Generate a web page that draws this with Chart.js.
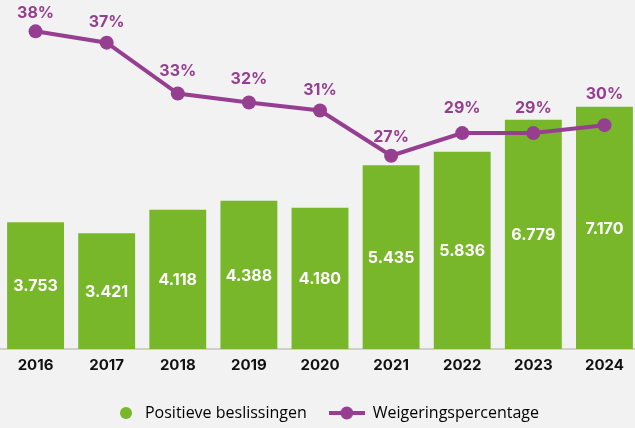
<!DOCTYPE html>
<html>
<head>
<meta charset="utf-8">
<script src="https://cdn.jsdelivr.net/npm/chart.js@4.4.0/dist/chart.umd.min.js"></script>
<style>
  html, body { margin: 0; padding: 0; background: #f2f2f2; overflow: hidden; }
  #wrap { width: 640px; height: 428px; }
</style>
</head>
<body>
<div id="wrap"><canvas id="chart"></canvas></div>
<script>
const years = ['2016', '2017', '2018', '2019', '2020', '2021', '2022', '2023', '2024'];
const positieve = [3753, 3421, 4118, 4388, 4180, 5435, 5836, 6779, 7170];
const weigering = [38.0, 37.0, 32.5, 31.7, 31.0, 27.0, 29.0, 29.0, 29.7];

const green = '#78b72a';
const purple = '#963f91';
// how far above each point the % label sits
const pctLift = [18, 20, 22, 23, 20, 19, 25, 25, 31];

function fmtNum(n) {
    return String(n).replace(/\B(?=(\d{3})+(?!\d))/g, '.');
}

// legend icons
function makeDot() {
    let c = document.createElement('canvas');
    c.width = 36; c.height = 14;
    let g = c.getContext('2d');
    g.fillStyle = green;
    g.beginPath(); g.arc(25, 7, 6, 0, Math.PI * 2); g.fill();
    return c;
}
function makeLineDot() {
    let c = document.createElement('canvas');
    c.width = 36; c.height = 14;
    let g = c.getContext('2d');
    g.strokeStyle = purple; g.lineWidth = 4;
    g.beginPath(); g.moveTo(0, 7); g.lineTo(36, 7); g.stroke();
    g.fillStyle = purple;
    g.beginPath(); g.arc(18, 7, 6.5, 0, Math.PI * 2); g.fill();
    return c;
}

const valueLabels = {
    id: 'valueLabels',
    afterDatasetsDraw(chart) {
        const ctx = chart.ctx;
        ctx.save();
        ctx.textAlign = 'center';
        ctx.textBaseline = 'middle';

        let barMeta = chart.getDatasetMeta(0);
        ctx.fillStyle = '#ffffff';
        ctx.font = 'bold 16px Inter, "DejaVu Sans", sans-serif';
        barMeta.data.forEach((bar, i) => {
            let cy = (bar.y + bar.base) / 2;
            ctx.fillText(fmtNum(positieve[i]), bar.x, cy + 1);
        });

        let lineMeta = chart.getDatasetMeta(1);
        ctx.fillStyle = purple;
        ctx.font = 'bold 16px Inter, "DejaVu Sans", sans-serif';
        lineMeta.data.forEach((pt, i) => {
            ctx.fillText(Math.round(weigering[i]) + '%', pt.x, pt.y - pctLift[i]);
        });
        ctx.restore();
    }
};

let chartInstance = new Chart(document.getElementById('chart'), {
    data: {
        labels: years,
        datasets: [{
            type: 'bar',
            label: 'Positieve beslissingen',
            data: positieve,
            backgroundColor: green,
            barPercentage: 0.8,
            categoryPercentage: 1.0,
            yAxisID: 'y',
            order: 2,
        }, {
            type: 'line',
            label: 'Weigeringspercentage',
            data: weigering,
            borderColor: purple,
            backgroundColor: purple,
            borderWidth: 4,
            pointRadius: 7,
            pointHoverRadius: 7,
            pointBorderWidth: 0,
            tension: 0,
            yAxisID: 'y1',
            order: 1,
        }],
    },
    options: {
        responsive: true,
        maintainAspectRatio: false,
        animation: false,
        layout: { autoPadding: false, padding: { top: 11, left: 0, right: 0, bottom: -3 } },
        scales: {
            x: {
                grid: { display: false, drawTicks: false },
                border: { display: true, color: '#cfcfcf', width: 2 },
                ticks: {
                    color: '#111111',
                    padding: 7,
                    font: { family: 'Inter', size: 15, weight: 'bold' },
                },
                afterFit: function(scale) { scale.height += 2; },
            },
            y: { display: false, min: 0, max: 10000 },
            y1: { display: false, position: 'right', min: 9.9, max: 39.8 },
        },
        plugins: {
            legend: {
                position: 'bottom',
                labels: {
                    usePointStyle: true,
                    pointStyleWidth: 36,
                    padding: 22,
                    color: '#222222',
                    font: { family: '"Open Sans"', size: 16 },
                    generateLabels: function() {
                        return [
                            { text: 'Positieve beslissingen', pointStyle: makeDot(), fillStyle: green, strokeStyle: green, lineWidth: 0, hidden: false, datasetIndex: 0 },
                            { text: 'Weigeringspercentage', pointStyle: makeLineDot(), fillStyle: purple, strokeStyle: purple, lineWidth: 0, hidden: false, datasetIndex: 1 },
                        ];
                    },
                },
            },
            tooltip: { enabled: false },
        },
    },
    plugins: [valueLabels],
});
</script>
</body>
</html>
